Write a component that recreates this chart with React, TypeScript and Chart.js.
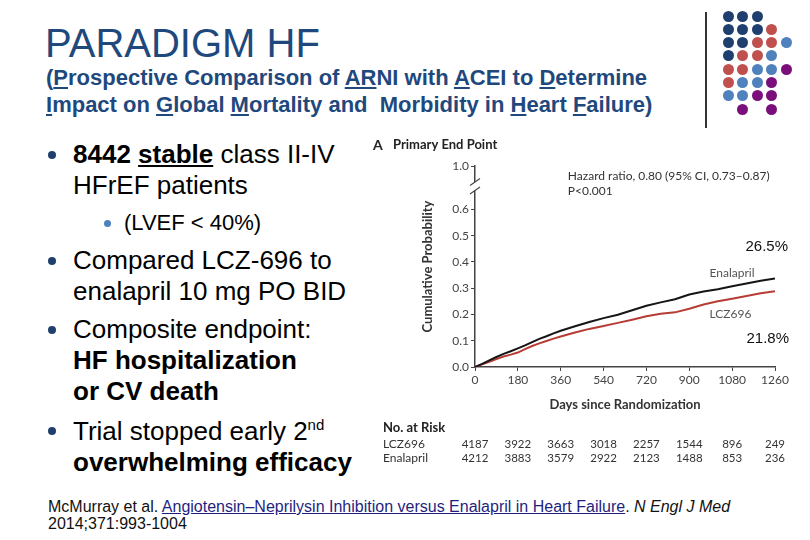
import React, { useEffect, useRef } from "react";
import { Chart, registerables } from "chart.js";
Chart.register(...registerables);

// ---- data ----
const DAYS = [0, 30, 60, 90, 120, 150, 180, 210, 240, 270, 300, 330, 360, 420, 480, 540, 600, 660, 720, 780, 840, 900, 960, 1020, 1080, 1140, 1200, 1260];
const ENALAPRIL = [0, 0.012, 0.025, 0.038, 0.05, 0.06, 0.071, 0.082, 0.095, 0.107, 0.117, 0.128, 0.138, 0.155, 0.171, 0.186, 0.199, 0.216, 0.233, 0.246, 0.258, 0.276, 0.287, 0.296, 0.307, 0.318, 0.328, 0.337];
const LCZ696 = [0, 0.01, 0.02, 0.03, 0.04, 0.047, 0.055, 0.068, 0.08, 0.09, 0.099, 0.108, 0.116, 0.131, 0.145, 0.156, 0.168, 0.18, 0.193, 0.203, 0.208, 0.222, 0.238, 0.25, 0.26, 0.27, 0.281, 0.288];
const X_TICKS = [0, 180, 360, 540, 720, 900, 1080, 1260];
const Y_TICKS = [0, 0.1, 0.2, 0.3, 0.4, 0.5, 0.6];
const Y_TOP = 0.765; // position of the "1.0" label above the axis break
const Y_TOP_LABEL = "1.0";
const BREAK_LOW = 0.672;
const BREAK_HIGH = 0.704;
const RISK_GROUPS = ["LCZ696", "Enalapril"];
const AT_RISK_LCZ = [4187, 3922, 3663, 3018, 2257, 1544, 896, 249];
const AT_RISK_ENA = [4212, 3883, 3579, 2922, 2123, 1488, 853, 236];
const PCT_ENA = "26.5%";
const PCT_LCZ = "21.8%";

// dot grid (top right decoration): N navy, R red, B blue, P purple
const DOT_ROWS = ["NNN", "NNNR", "NNRRB", "NRRB", "RRBBP", "RBBP", "BBPP", ".P.P"];
const DOT_COLORS: Record<string, string> = { N: "#1F3F6E", R: "#C0504D", B: "#4F81BD", P: "#7A0F7C" };

const FIG_FONT = "Lato, 'Open Sans', sans-serif";
const ARIAL = "Arial, 'Liberation Sans', sans-serif";

const annotPlugin = {
  id: "annot",
  afterDraw(chart: any) {
    const { ctx, scales, chartArea } = chart;
    const x = scales.x, y = scales.y;
    ctx.save();
    // axis break
    const yA = y.getPixelForValue(BREAK_HIGH);
    const yB = y.getPixelForValue(BREAK_LOW);
    const ax = chartArea.left;
    ctx.fillStyle = "#fff";
    ctx.fillRect(ax - 2, yA, 4, yB - yA);
    ctx.strokeStyle = "#444";
    ctx.lineWidth = 1.1;
    for (const yy of [yA, yB]) {
      ctx.beginPath();
      ctx.moveTo(ax - 5, yy + 3.5);
      ctx.lineTo(ax + 5, yy - 3.5);
      ctx.stroke();
    }
    // panel label
    ctx.fillStyle = "#222";
    ctx.textBaseline = "middle";
    ctx.textAlign = "left";
    ctx.font = `bold 14px ${FIG_FONT}`;
    ctx.fillText("A", 3, 15);
    ctx.font = `bold 13px ${FIG_FONT}`;
    ctx.fillText("Primary End Point", 23, 15);
    // hazard ratio
    ctx.fillStyle = "#333";
    ctx.font = `12px ${FIG_FONT}`;
    const hx = x.getPixelForValue(390);
    ctx.fillText("Hazard ratio, 0.80 (95% CI, 0.73\u20130.87)", hx, y.getPixelForValue(0.726));
    ctx.fillText("P<0.001", hx, y.getPixelForValue(0.668));
    // series labels
    ctx.fillStyle = "#555";
    ctx.fillText("Enalapril", x.getPixelForValue(985), y.getPixelForValue(0.358));
    ctx.fillText("LCZ696", x.getPixelForValue(985), y.getPixelForValue(0.2));
    // percentages
    ctx.fillStyle = "#111";
    ctx.font = `15px ${ARIAL}`;
    ctx.textAlign = "right";
    ctx.fillText(PCT_ENA, chartArea.right + 13, y.getPixelForValue(0.457));
    ctx.fillText(PCT_LCZ, chartArea.right + 14, y.getPixelForValue(0.107));
    // at-risk table
    ctx.textAlign = "left";
    ctx.fillStyle = "#222";
    ctx.font = `bold 13px ${FIG_FONT}`;
    ctx.fillText("No. at Risk", 13, 298);
    ctx.fillStyle = "#333";
    const rows = [AT_RISK_LCZ, AT_RISK_ENA];
    rows.forEach((vals, r) => {
      const ry = 314 + r * 14;
      ctx.textAlign = "left";
      ctx.font = `12px ${FIG_FONT}`;
      ctx.fillText(RISK_GROUPS[r], 13, ry);
      ctx.textAlign = "center";
      ctx.font = `11.5px ${FIG_FONT}`;
      vals.forEach((v, i) => ctx.fillText(String(v), x.getPixelForValue(X_TICKS[i]), ry));
    });
    ctx.restore();
  },
};

function KMChart() {
  const ref = useRef<HTMLCanvasElement>(null);
  useEffect(() => {
    if (!ref.current) return;
    const chart = new Chart(ref.current, {
      type: "line",
      data: {
        datasets: [
          {
            label: "Enalapril",
            data: DAYS.map((d, i) => ({ x: d, y: ENALAPRIL[i] })),
            borderColor: "#151515",
            borderWidth: 2,
            pointRadius: 0,
            tension: 0,
          },
          {
            label: "LCZ696",
            data: DAYS.map((d, i) => ({ x: d, y: LCZ696[i] })),
            borderColor: "#B63C34",
            borderWidth: 2,
            pointRadius: 0,
            tension: 0,
          },
        ],
      },
      options: {
        animation: false,
        responsive: true,
        maintainAspectRatio: false,
        layout: { padding: { left: 0, right: 25, top: 36, bottom: 0 } },
        plugins: { legend: { display: false }, tooltip: { enabled: false } },
        scales: {
          x: {
            type: "linear",
            min: 0,
            max: 1260,
            afterBuildTicks: (s: any) => { s.ticks = X_TICKS.map((v) => ({ value: v })); },
            afterFit: (s: any) => { s.height = 108; },
            grid: { display: true, drawOnChartArea: false, drawTicks: true, tickLength: 4, color: "#444" },
            border: { display: true, color: "#444", width: 1.5 },
            ticks: { color: "#444", font: { family: FIG_FONT, size: 12 }, padding: 2, maxRotation: 0, callback: (v: any) => String(v) },
            title: {
              display: true,
              text: "Days since Randomization",
              color: "#333",
              font: { family: FIG_FONT, size: 13, weight: "bold" },
              padding: { top: 0, bottom: 62 },
            },
          },
          y: {
            type: "linear",
            min: 0,
            max: Y_TOP,
            afterBuildTicks: (s: any) => { s.ticks = [...Y_TICKS, Y_TOP].map((v) => ({ value: v })); },
            afterFit: (s: any) => { s.width = 105; },
            grid: { display: true, drawOnChartArea: false, drawTicks: true, tickLength: 4, color: "#444" },
            border: { display: true, color: "#444", width: 1.5 },
            ticks: {
              color: "#444",
              font: { family: FIG_FONT, size: 12 },
              padding: 2,
              callback: (v: any) => (Math.abs(v - Y_TOP) < 1e-6 ? Y_TOP_LABEL : Number(v).toFixed(1)),
            },
            title: {
              display: true,
              text: "Cumulative Probability",
              color: "#333",
              font: { family: FIG_FONT, size: 13, weight: "bold" },
              padding: { top: 50, bottom: 0 },
            },
          },
        },
      },
      plugins: [annotPlugin],
    });
    return () => chart.destroy();
  }, []);
  return <canvas ref={ref} style={{ width: "100%", height: "100%" }} />;
}

const top = (baseline: number, f: number) => baseline - 0.8465 * f;

function Line({ b, f = 26, left = 73, children, bold = false }: any) {
  return (
    <div
      style={{
        position: "absolute",
        left,
        top: top(b, f),
        fontSize: f,
        lineHeight: `${f}px`,
        fontFamily: ARIAL,
        color: "#000",
        whiteSpace: "nowrap",
        fontWeight: bold ? "bold" : "normal",
      }}
    >
      {children}
    </div>
  );
}

function Dot({ x, y, d, c }: any) {
  return (
    <div style={{ position: "absolute", left: x - d / 2, top: y - d / 2, width: d, height: d, borderRadius: "50%", background: c }} />
  );
}

export default function App() {
  const blue = "#1F497D";
  const bulletColor = "#1F3F6E";
  return (
    <div style={{ position: "fixed", left: 0, top: 0, width: 810, height: 540, background: "#fff", overflow: "hidden" }}>
      {/* title */}
      <div style={{ position: "absolute", left: 45, top: top(57, 40), fontSize: 40, lineHeight: "40px", fontFamily: ARIAL, color: blue, whiteSpace: "nowrap" }}>
        PARADIGM HF
      </div>
      <div style={{ position: "absolute", left: 46, top: top(86, 22), fontSize: 22, lineHeight: "22px", fontFamily: ARIAL, fontWeight: "bold", color: blue, whiteSpace: "nowrap" }}>
        (<u>P</u>rospective Comparison of <u>AR</u>NI with <u>A</u>CEI to <u>D</u>etermine
      </div>
      <div style={{ position: "absolute", left: 46, top: top(113, 22), fontSize: 22, lineHeight: "22px", fontFamily: ARIAL, fontWeight: "bold", color: blue, whiteSpace: "pre" }}>
        <u>I</u>mpact on <u>G</u>lobal <u>M</u>ortality and  Morbidity in <u>H</u>eart <u>F</u>ailure)
      </div>

      {/* divider and dots */}
      <div style={{ position: "absolute", left: 705, top: 12, width: 1.5, height: 116, background: "#333" }} />
      {DOT_ROWS.map((row, r) =>
        row.split("").map((ch, c) =>
          ch === "." ? null : <Dot key={`${r}-${c}`} x={728 + c * 14.5} y={16 + r * 13.3} d={11} c={DOT_COLORS[ch]} />
        )
      )}

      {/* bullets */}
      <Dot x={52} y={155} d={8} c={bulletColor} />
      <Line b={163.5}><b>8442 <u>stable</u></b> class II-IV</Line>
      <Line b={194.5}>HFrEF patients</Line>
      <Dot x={107} y={223} d={7} c="#4F81BD" />
      <Line b={231} f={22} left={124}>(LVEF &lt; 40%)</Line>
      <Dot x={52} y={261} d={8} c={bulletColor} />
      <Line b={269}>Compared LCZ-696 to</Line>
      <Line b={300.5}>enalapril 10 mg PO BID</Line>
      <Dot x={52} y={330} d={8} c={bulletColor} />
      <Line b={338.5}>Composite endpoint:</Line>
      <Line b={369.5} bold>HF hospitalization</Line>
      <Line b={400.5} bold>or CV death</Line>
      <Dot x={52} y={431} d={8} c={bulletColor} />
      <Line b={440}>
        Trial stopped early 2<span style={{ fontSize: 15, position: "relative", top: -10 }}>nd</span>
      </Line>
      <Line b={471} bold>overwhelming efficacy</Line>

      {/* chart */}
      <div style={{ position: "absolute", left: 370, top: 130, width: 430, height: 345 }}>
        <KMChart />
      </div>

      {/* footer */}
      <div style={{ position: "absolute", left: 48, top: top(512.5, 16), fontSize: 16, lineHeight: "16px", fontFamily: ARIAL, color: "#111", whiteSpace: "nowrap" }}>
        McMurray et al. <span style={{ color: "#1F1F80", textDecoration: "underline" }}>Angiotensin–Neprilysin Inhibition versus Enalapril in Heart Failure</span>. <i>N Engl J Med</i>
      </div>
      <div style={{ position: "absolute", left: 48, top: top(530, 16), fontSize: 16, lineHeight: "16px", fontFamily: ARIAL, color: "#111", whiteSpace: "nowrap" }}>
        2014;371:993-1004
      </div>
    </div>
  );
}
